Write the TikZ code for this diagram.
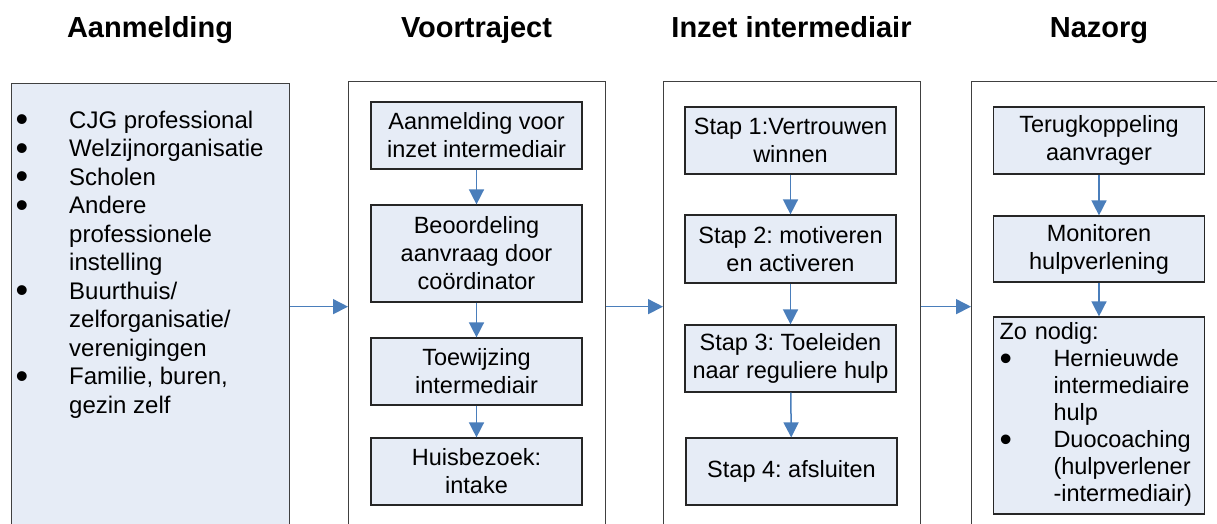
\documentclass[tikz,border=0pt]{standalone}
\usepackage{fontspec}
\setmainfont{Liberation Sans}
\usepackage{graphicx}
\usetikzlibrary{arrows.meta}
\definecolor{boxfill}{HTML}{E6ECF6}
\definecolor{arrowblue}{HTML}{4A7EBB}
\definecolor{framegray}{HTML}{404040}
\newcommand{\blt}{\smash{\raisebox{-3.8pt}{\scalebox{1.5}{\textbullet}}}}
\frenchspacing
\begin{document}
\begin{tikzpicture}[x=1pt,y=-1pt,
  colbox/.style={draw=framegray, line width=1.3pt, anchor=north west, inner sep=0pt},
  stepbox/.style={draw=black!85, line width=1.2pt, fill=boxfill, minimum width=211pt, align=center, inner sep=0pt, font=\fontsize{23.5}{28}\selectfont},
  title/.style={font=\fontsize{29}{34}\selectfont\bfseries, anchor=base},
  flow/.style={draw=arrowblue, line width=1.5pt, -{Triangle[length=15pt,width=15pt]}}
]
\useasboundingbox (0,0) rectangle (1217,524);
\clip (0,0) rectangle (1217,524);
\fill[white] (0,0) rectangle (1217,524);

% titles
\node[title] (t1) at (150,38) {Aanmelding};
\node[title] (t2) at (476.5,38) {Voortraject};
\node[title] (t3) at (791.5,38) {Inzet intermediair};
\node[title] (t4) at (1099,38) {Nazorg};

% columns
\node[colbox, fill=boxfill, minimum width=278pt, minimum height=446pt] (c1) at (11,83) {};
\node[colbox, fill=white, minimum width=257pt, minimum height=450pt] (c2) at (348,81) {};
\node[colbox, fill=white, minimum width=257pt, minimum height=450pt] (c3) at (663,81) {};
\node[colbox, fill=white, minimum width=270pt, minimum height=450pt] (c4) at (971,81) {};

\draw[flow] (c1.east) -- (c2.west);
\draw[flow] (c2.east) -- (c3.west);
\draw[flow] (c3.east) -- (c4.west);

% Aanmelding list
\node[anchor=north west, inner sep=0pt, font=\fontsize{24}{28.5}\selectfont] (l1) at (15.5,108) {%
\begin{tabular}{@{}p{53.5pt}@{}l@{}}
\blt & CJG professional\\
\blt & Welzijnorganisatie\\
\blt & Scholen\\
\blt & Andere\\
 & professionele\\
 & instelling\\
\blt & Buurthuis/\\
 & zelforganisatie/\\
 & verenigingen\\
\blt & Familie, buren,\\
 & gezin zelf
\end{tabular}};

% Voortraject
\node[stepbox, minimum height=67pt] (v1) at (476.5,135.5) {Aanmelding voor\\inzet intermediair};
\node[stepbox, minimum height=97pt] (v2) at (476.5,253.5) {Beoordeling\\aanvraag door\\coördinator};
\node[stepbox, minimum height=67pt] (v3) at (476.5,371.5) {Toewijzing\\intermediair};
\node[stepbox, minimum height=67pt] (v4) at (476.5,471.5) {Huisbezoek:\\intake};
\draw[flow] (v1) -- (v2);
\draw[flow] (v2) -- (v3);
\draw[flow] (v3) -- (v4);

% Inzet intermediair
\node[stepbox, minimum height=67pt] (s1) at (790.5,140.5) {Stap 1:Vertrouwen\\winnen};
\node[stepbox, minimum height=68pt] (s2) at (790.5,249) {Stap 2: motiveren\\en activeren};
\node[stepbox, minimum height=67pt] (s3) at (790.5,358.5) {Stap 3: Toeleiden\\naar reguliere hulp};
\node[stepbox, minimum height=67pt] (s4) at (791.5,471.5) {Stap 4: afsluiten};
\draw[flow] (s1) -- (s2);
\draw[flow] (s2) -- (s3);
\draw[flow] (s3) -- (s4);

% Nazorg
\node[stepbox, minimum height=67pt] (n1) at (1099,140.5) {Terugkoppeling\\aanvrager};
\node[stepbox, minimum height=66pt] (n2) at (1099,249) {Monitoren\\hulpverlening};
\node[stepbox, minimum height=197pt, text width=199pt, align=left, font=\fontsize{23.5}{27}\selectfont] (n3) at (1099,415.5) {%
\begin{tabular}{@{}p{54pt}@{}l@{}}
\multicolumn{2}{@{}l@{}}{Zo nodig:}\\
\blt & Hernieuwde\\
 & intermediaire\\
 & hulp\\
\blt & Duocoaching\\
 & (hulpverlener\\
 & -intermediair)
\end{tabular}};
\draw[flow] (n1) -- (n2);
\draw[flow] (n2) -- (n3);
\end{tikzpicture}
\end{document}
